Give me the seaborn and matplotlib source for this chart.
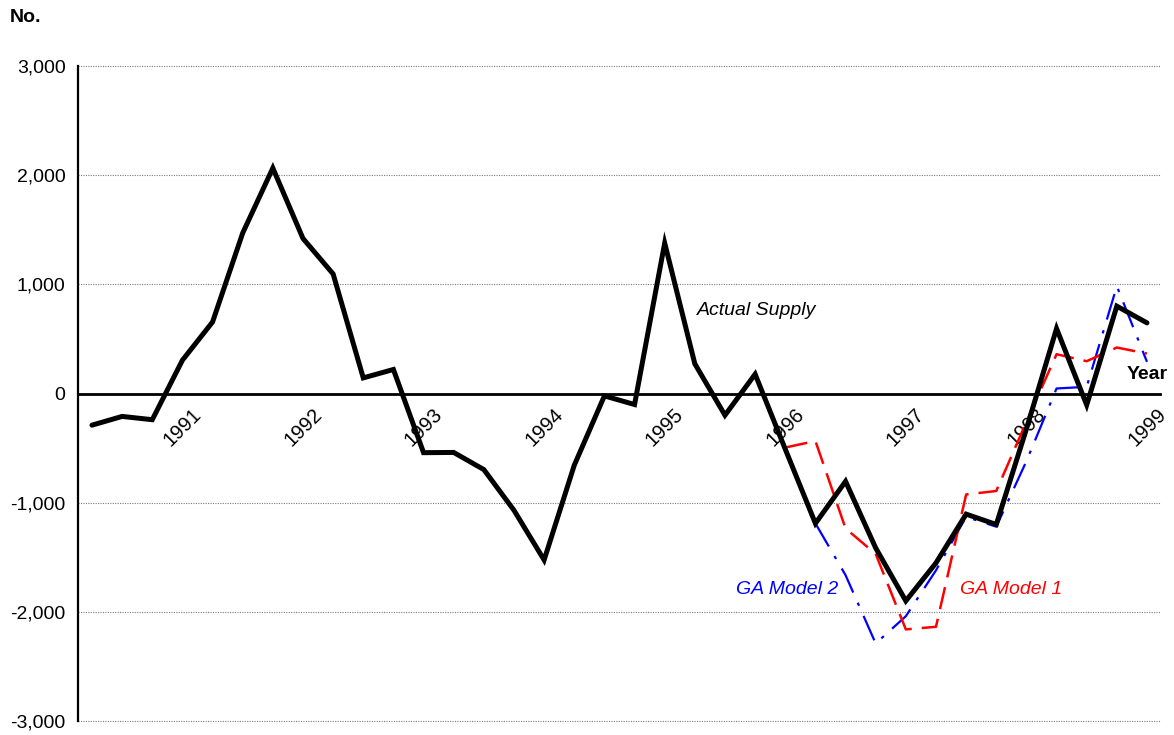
import matplotlib
matplotlib.use("Agg")
import matplotlib.pyplot as plt
import matplotlib.ticker as mticker
import numpy as np
import pandas as pd
import seaborn as sns

# ---------------- data ----------------
actual_time = [1990.25, 1990.5, 1990.75, 1991.0, 1991.25, 1991.5, 1991.75, 1992.0,
               1992.25, 1992.5, 1992.75, 1993.0, 1993.25, 1993.5, 1993.75, 1994.0,
               1994.25, 1994.5, 1994.75, 1995.0, 1995.25, 1995.5, 1995.75, 1996.0,
               1996.25, 1996.5, 1996.75, 1997.0, 1997.25, 1997.5, 1997.75, 1998.0,
               1998.25, 1998.5, 1998.75, 1999.0]
actual_supply = [-290, -210, -240, 305, 655, 1470, 2065, 1420,
                 1095, 143, 220, -542, -540, -697, -1070, -1525,
                 -657, -22, -101, 1378, 272, -199, 177, -510,
                 -1190, -805, -1415, -1900, -1552, -1105, -1200, -325,
                 595, -105, 800, 647]

ga1_time = [1996.0, 1996.25, 1996.5, 1996.75, 1997.0, 1997.25, 1997.5, 1997.75,
            1998.0, 1998.25, 1998.5, 1998.75, 1999.0]
ga_model1 = [-495, -435, -1236, -1470, -2161, -2137, -925, -893,
             -260, 360, 296, 421, 366]

ga2_time = [1996.25, 1996.5, 1996.75, 1997.0, 1997.25, 1997.5, 1997.75,
            1998.0, 1998.25, 1998.5, 1998.75, 1999.0]
ga_model2 = [-1190, -1664, -2290, -2040, -1620, -1130, -1220,
             -620, 46, 61, 983, 290]

year_ticks = [1991, 1992, 1993, 1994, 1995, 1996, 1997, 1998, 1999]
y_ticks = [-3000, -2000, -1000, 0, 1000, 2000, 3000]

# ---------------- style ----------------
sns.set_style("white")
plt.rcParams["font.family"] = ["Liberation Sans", "DejaVu Sans"]
plt.rcParams["font.size"] = 14
plt.rcParams["text.color"] = "black"
plt.rcParams["xtick.color"] = "black"
plt.rcParams["ytick.color"] = "black"
plt.rcParams["axes.labelcolor"] = "black"

fig = plt.figure(figsize=(11.74, 7.35), dpi=100)
ax = fig.add_axes([78 / 1174, 14 / 735, (1160 - 78) / 1174, (721 - 66) / 735])

df_a = pd.DataFrame({"t": actual_time, "v": actual_supply})
df_1 = pd.DataFrame({"t": ga1_time, "v": ga_model1})
df_2 = pd.DataFrame({"t": ga2_time, "v": ga_model2})

sns.lineplot(data=df_2, x="t", y="v", ax=ax, color="#0000ff", lw=1.6,
             dashes=False, zorder=3)
ax.lines[-1].set_dashes([12, 5, 1.5, 5])
sns.lineplot(data=df_1, x="t", y="v", ax=ax, color="#ff0000", lw=1.8, zorder=4)
ax.lines[-1].set_dashes([9, 4])
sns.lineplot(data=df_a, x="t", y="v", ax=ax, color="black", lw=3.6, zorder=5)
ax.lines[-1].set_solid_joinstyle("miter")

ax.set_xlim(1990.134, 1999.108)
ax.set_ylim(-3000, 3000)

# grid
ax.set_yticks(y_ticks)
ax.yaxis.set_major_formatter(mticker.FuncFormatter(lambda v, p: f"{int(v):,}"))
ax.tick_params(axis="y", length=0, pad=9, labelsize=14, labelcolor="black")
for v in y_ticks:
    if v != 0:
        ax.axhline(v, color="#7a7a7a", lw=0.8, ls=(0, (1, 1.2)), zorder=1,
                   clip_on=False)

# x axis at zero
ax.spines["bottom"].set_position(("data", 0))
ax.spines["bottom"].set_linewidth(2)
ax.spines["bottom"].set_color("black")
ax.spines["bottom"].set_zorder(2)
ax.spines["left"].set_linewidth(1.6)
ax.spines["left"].set_color("black")
ax.spines["top"].set_visible(False)
ax.spines["right"].set_visible(False)
ax.set_xticks(year_ticks)
ax.set_xticklabels([str(y) for y in year_ticks], rotation=45, ha="center")
ax.xaxis.set_minor_locator(mticker.FixedLocator(actual_time[:-1]))
ax.tick_params(axis="x", which="both", direction="out", length=5, width=1.2,
               color="black", pad=3, labelsize=14.5, labelcolor="black")
ax.set_xlabel("")
ax.set_ylabel("")

# annotations
ax.text(1995.27, 763, "Actual Supply", style="italic", fontsize=14,
        ha="left", va="center", color="black")
ax.text(1995.59, -1800, "GA Model 2", style="italic", fontsize=14,
        ha="left", va="center", color="#0000ff")
ax.text(1997.45, -1800, "GA Model 1", style="italic", fontsize=14,
        ha="left", va="center", color="#ff0000")
ax.text(1999.17, 177, "Year", fontweight="bold", fontsize=14,
        ha="right", va="center", clip_on=False, color="black")
fig.text(10 / 1174, 1 - 18 / 735, "No.", fontweight="bold", fontsize=14,
         ha="left", va="center", color="black")

fig.savefig("out.png", dpi=100)
